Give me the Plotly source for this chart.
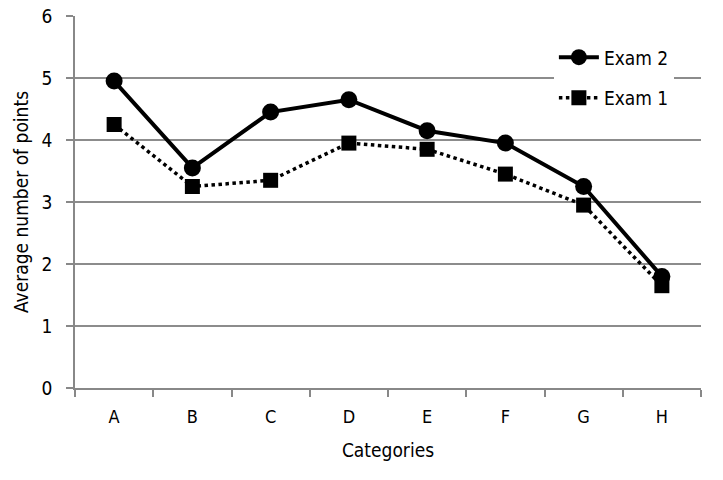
import plotly.graph_objects as go

categories = ["A", "B", "C", "D", "E", "F", "G", "H"]
exam2 = [4.95, 3.55, 4.45, 4.65, 4.15, 3.95, 3.25, 1.8]
exam1 = [4.25, 3.25, 3.35, 3.95, 3.85, 3.45, 2.95, 1.65]

FONT = "DejaVu Sans Condensed, Liberation Sans Narrow, sans-serif"

fig = go.Figure()
fig.add_trace(go.Scatter(
    x=categories, y=exam2, name="Exam 2", mode="lines+markers", legendgroup="g2",
    line=dict(color="black", width=4),
    marker=dict(symbol="circle", size=17, color="black"),
))
fig.add_trace(go.Scatter(
    x=categories, y=exam1, name="Exam 1", mode="lines+markers", legendgroup="g1",
    line=dict(color="black", width=3.5, dash="dot"),
    marker=dict(symbol="square", size=15, color="black"),
))

fig.update_layout(
    width=723, height=480,
    margin=dict(l=75, r=22, t=16, b=92, autoexpand=False),
    paper_bgcolor="white", plot_bgcolor="white",
    font=dict(family=FONT, size=18, color="black"),
    legend=dict(x=0.765, y=0.94, xanchor="left", yanchor="top",
                bgcolor="white", font=dict(size=19), tracegroupgap=13,
                itemwidth=40),
    xaxis=dict(
        type="category", range=[-0.5, 7.5], automargin=False,
        tickson="boundaries", ticks="outside", ticklen=7, tickcolor="#888",
        tickwidth=1.5, showgrid=False, showline=True, linecolor="#888", linewidth=1.5,
        ticklabelstandoff=12,
        title=dict(text="Categories", font=dict(size=19), standoff=17),
        tickfont=dict(size=18),
    ),
    yaxis=dict(
        range=[0, 6], dtick=1, tick0=0, automargin=False,
        showgrid=True, gridcolor="#8c8c8c", gridwidth=1.5,
        showline=True, linecolor="#888", linewidth=1.5,
        ticks="outside", ticklen=7, tickcolor="#888", tickwidth=1.5,
        zeroline=False, ticklabelstandoff=10,
        title=dict(text="Average number of points", font=dict(size=19), standoff=8),
        tickfont=dict(size=19),
    ),
)

fig.write_html("out.html", config={"displayModeBar": False},
               post_script="document.body.style.margin='0px';")
